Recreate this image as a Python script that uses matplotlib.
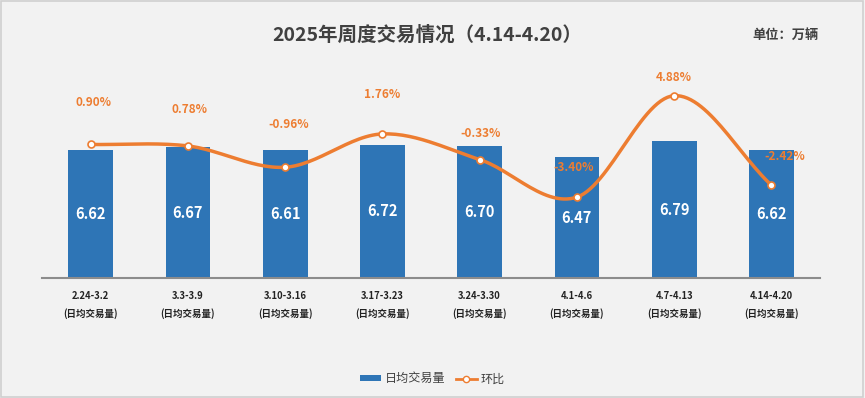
import numpy as np
import matplotlib
matplotlib.use("Agg")
import matplotlib.pyplot as plt
from matplotlib.lines import Line2D
from matplotlib.patches import Patch, Rectangle

plt.rcParams["font.family"] = ["Noto Sans CJK SC", "DejaVu Sans"]

weeks = ["2.24-3.2", "3.3-3.9", "3.10-3.16", "3.17-3.23",
         "3.24-3.30", "4.1-4.6", "4.7-4.13", "4.14-4.20"]
volume = [6.62, 6.67, 6.61, 6.72, 6.70, 6.47, 6.79, 6.62]
mom_pct = [0.90, 0.78, -0.96, 1.76, -0.33, -3.40, 4.88, -2.42]

# 环比标签偏移（像素），参照原图手动摆放
label_offsets = [(3, 42), (2, 36), (4, 43), (0, 39), (1, 26), (-3, 30), (0, 18), (13, 29)]

BLUE = "#2E75B6"
ORANGE = "#ED7D31"
BG = "#F2F2F2"


def smooth(x, y, n=30):
    """Catmull-Rom 平滑，模拟 Excel 平滑线。"""
    x = np.asarray(x, float)
    y = np.asarray(y, float)
    px = np.concatenate([[2 * x[0] - x[1]], x, [2 * x[-1] - x[-2]]])
    py = np.concatenate([[2 * y[0] - y[1]], y, [2 * y[-1] - y[-2]]])
    xs, ys = [], []
    for i in range(1, len(px) - 2):
        t = np.linspace(0, 1, n)
        for p, out in ((px, xs), (py, ys)):
            p0, p1, p2, p3 = p[i - 1], p[i], p[i + 1], p[i + 2]
            out.append(0.5 * (2 * p1 + (-p0 + p2) * t
                              + (2 * p0 - 5 * p1 + 4 * p2 - p3) * t ** 2
                              + (-p0 + 3 * p1 - 3 * p2 + p3) * t ** 3))
    return np.concatenate(xs), np.concatenate(ys)


fig = plt.figure(figsize=(8.65, 3.98), dpi=100, facecolor=BG)
fig.patches.append(Rectangle((0.001, 0.002), 0.997, 0.995, transform=fig.transFigure,
                             fill=False, edgecolor="#D0D0D0", linewidth=1.2))

ax = fig.add_axes([0.0486, 0.3015, 0.8994, 0.4925])
ax.set_facecolor(BG)
x = np.arange(len(weeks))
bars = ax.bar(x, volume, width=0.46, color=BLUE, zorder=2)
ax.set_ylim(4.06, 7.98)
ax.set_xlim(-0.5, len(weeks) - 0.5)
for b, v in zip(bars, volume):
    ax.text(b.get_x() + b.get_width() / 2, (4.06 + v) / 2, f"{v:.2f}",
            ha="center", va="center", color="white", fontsize=10.5, fontweight="bold", zorder=3)

ax.set_yticks([])
ax.set_xticks(x)
ax.set_xticklabels([f"{w}\n(日均交易量)" for w in weeks], fontsize=6.8,
                   fontweight="bold", color="#222222", linespacing=1.85)
ax.tick_params(axis="x", length=0, pad=9)
for s in ["top", "right", "left"]:
    ax.spines[s].set_visible(False)
ax.spines["bottom"].set_color("#8C8C8C")
ax.spines["bottom"].set_linewidth(1.5)

ax2 = ax.twinx()
ax2.set_ylim(-10, 6)
ax2.axis("off")
sx, sy = smooth(x, mom_pct)
ax2.plot(sx, sy, color=ORANGE, linewidth=2.5, zorder=4, solid_capstyle="round")
ax2.plot(x, mom_pct, linestyle="none", marker="o", markersize=5,
         markerfacecolor="white", markeredgecolor=ORANGE, markeredgewidth=1.2, zorder=5)
for xi, v, (dx, dy) in zip(x, mom_pct, label_offsets):
    ax2.annotate(f"{v:.2f}%", (xi, v), xytext=(dx * 0.72, dy * 0.72),
                 textcoords="offset points", ha="center", va="center",
                 color=ORANGE, fontsize=8.5, fontweight="bold", zorder=6)

fig.text(0.494, 0.912, "2025年周度交易情况（4.14-4.20）", ha="center", va="center",
         fontsize=14, fontweight="bold", color="#404040")
fig.text(0.908, 0.912, "单位：万辆", ha="center", va="center",
         fontsize=9.5, fontweight="bold", color="#404040")

handles = [Patch(facecolor=BLUE, edgecolor="none"),
           Line2D([], [], color=ORANGE, linewidth=2, marker="o", markersize=4.5,
                  markerfacecolor="white", markeredgecolor=ORANGE)]
leg = fig.legend(handles, ["日均交易量", "环比"], loc="center", bbox_to_anchor=(0.5, 0.048),
                 ncol=2, frameon=False, fontsize=8.7, handlelength=1.7, handleheight=0.45,
                 columnspacing=0.9, handletextpad=0.3)
for t in leg.get_texts():
    t.set_color("#404040")

fig.savefig("out.png", dpi=100, facecolor=BG)
